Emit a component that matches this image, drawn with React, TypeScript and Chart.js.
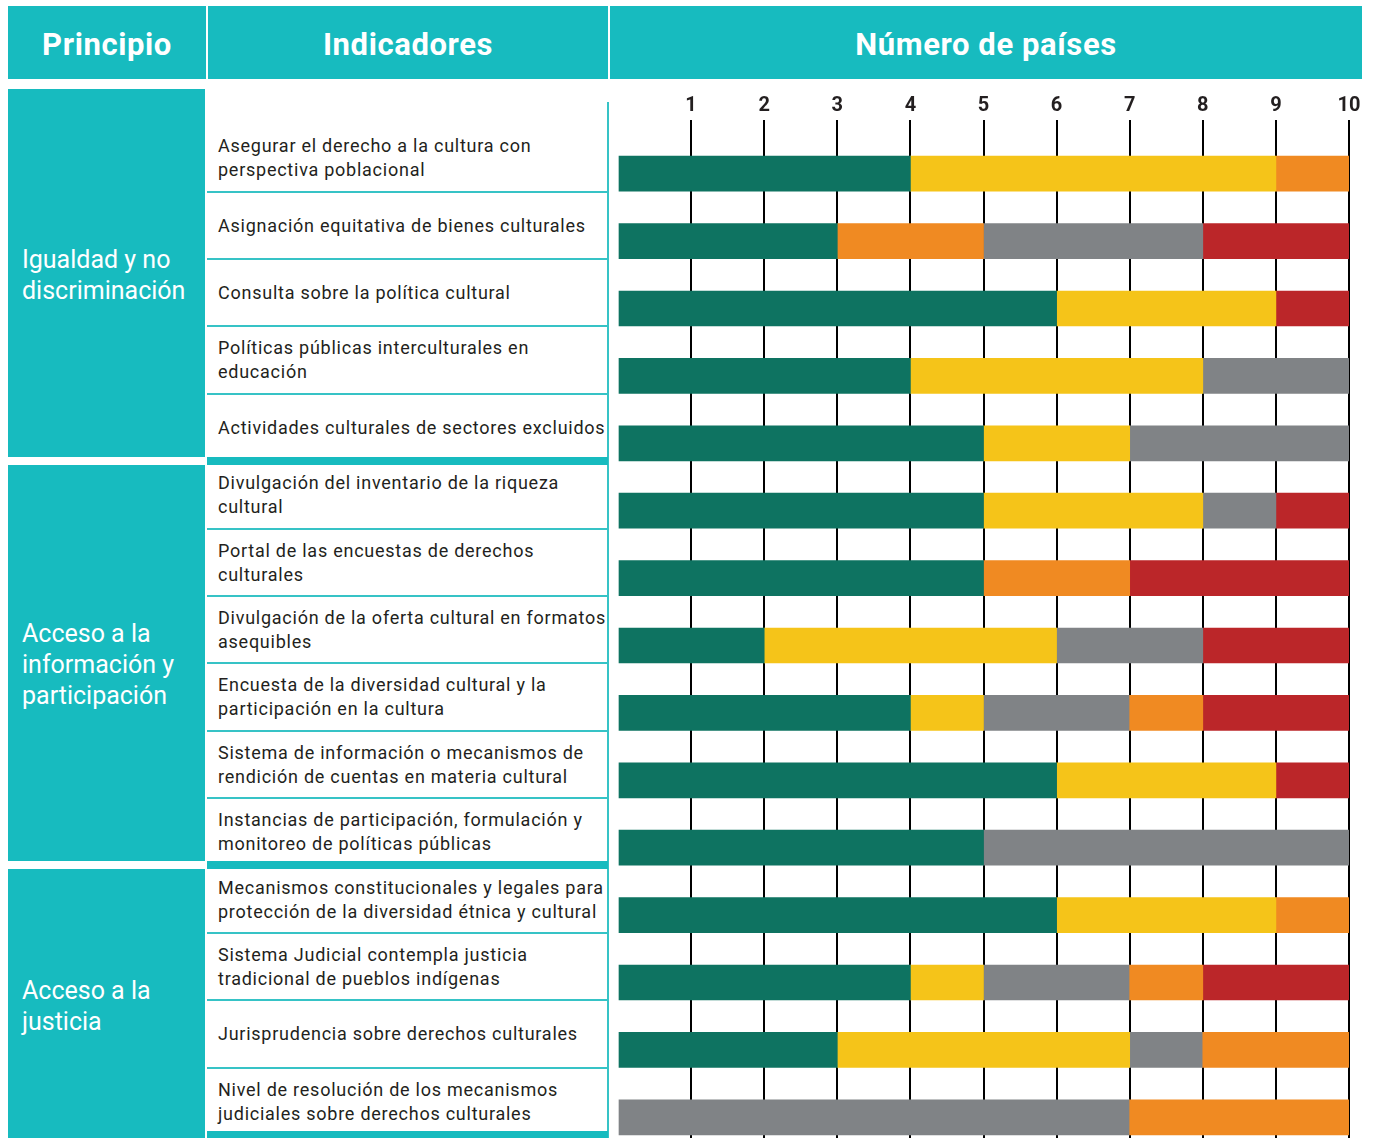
import React, { useEffect, useRef } from "react";
import { Chart, registerables } from "chart.js";

Chart.register(...registerables);

// ---------- data ----------
const headerLabels = ["Principio", "Indicadores", "Número de países"];

const principles = [
  "Igualdad y no\ndiscriminación",
  "Acceso a la\ninformación y\nparticipación",
  "Acceso a la\njusticia",
];
const principleRowCounts = [5, 6, 4];

const indicators = [
  "Asegurar el derecho a la cultura con\nperspectiva poblacional",
  "Asignación equitativa de bienes culturales",
  "Consulta sobre la política cultural",
  "Políticas públicas interculturales en\neducación",
  "Actividades culturales de sectores excluidos",
  "Divulgación del inventario de la riqueza\ncultural",
  "Portal de las encuestas de derechos\nculturales",
  "Divulgación de la oferta cultural en formatos\nasequibles",
  "Encuesta de la diversidad cultural y la\nparticipación en la cultura",
  "Sistema de información o mecanismos de\nrendición de cuentas en materia cultural",
  "Instancias de participación, formulación y\nmonitoreo de políticas públicas",
  "Mecanismos constitucionales y legales para\nprotección de la diversidad étnica y cultural",
  "Sistema Judicial contempla justicia\ntradicional de pueblos indígenas",
  "Jurisprudencia sobre derechos culturales",
  "Nivel de resolución de los mecanismos\njudiciales sobre derechos culturales",
];

type Range = [number, number] | null;

// segment ranges (number of countries) per indicator, by colour
const greenRanges: Range[] = [
  [0, 4], [0, 3], [0, 6], [0, 4], [0, 5],
  [0, 5], [0, 5], [0, 2], [0, 4], [0, 6], [0, 5],
  [0, 6], [0, 4], [0, 3], null,
];
const yellowRanges: Range[] = [
  [4, 9], null, [6, 9], [4, 8], [5, 7],
  [5, 8], null, [2, 6], [4, 5], [6, 9], null,
  [6, 9], [4, 5], [3, 7], null,
];
const orangeRanges: Range[] = [
  [9, 10], [3, 5], null, null, null,
  null, [5, 7], null, [7, 8], null, null,
  [9, 10], [7, 8], [8, 10], [7, 10],
];
const grayRanges: Range[] = [
  null, [5, 8], null, [8, 10], [7, 10],
  [8, 9], null, [6, 8], [5, 7], null, [5, 10],
  null, [5, 7], [7, 8], [0, 7],
];
const redRanges: Range[] = [
  null, [8, 10], [9, 10], null, null,
  [9, 10], [7, 10], [8, 10], [8, 10], [9, 10], null,
  null, [8, 10], null, null,
];

const axisMin = 0;
const axisMax = 10;

// ---------- styles ----------
const TEAL = "#17bbbf";
const LINE_TEAL = "#36c3c6";
const TEXT = "#231f20";
const GREEN = "#0e7361";
const YELLOW = "#f5c419";
const ORANGE = "#f08a22";
const GRAY = "#808386";
const RED = "#bb2629";

const FIRST_ROW_BOTTOM = 191.5;
const ROW_PITCH = 67.4;
const rowBottom = (i: number) => FIRST_ROW_BOTTOM + ROW_PITCH * i;
const rowTop = (i: number) => rowBottom(i) - ROW_PITCH;

const CANVAS_LEFT = 600;
const CANVAS_TOP = 80;
const CANVAS_W = 777;
const CANVAS_H = 1071;

export default function App() {
  const canvasRef = useRef<HTMLCanvasElement | null>(null);

  useEffect(() => {
    if (!canvasRef.current) return;
    const series = [
      { name: "Verde", ranges: greenRanges, color: GREEN },
      { name: "Amarillo", ranges: yellowRanges, color: YELLOW },
      { name: "Naranja", ranges: orangeRanges, color: ORANGE },
      { name: "Gris", ranges: grayRanges, color: GRAY },
      { name: "Rojo", ranges: redRanges, color: RED },
    ];
    const chart = new Chart(canvasRef.current, {
      type: "bar",
      data: {
        labels: indicators.map((s) => s.replace("\n", " ")),
        datasets: series.map((s) => ({
          label: s.name,
          data: s.ranges as any,
          backgroundColor: s.color,
          borderWidth: 0,
          barThickness: 35,
          grouped: false,
        })),
      },
      options: {
        indexAxis: "y",
        animation: false,
        responsive: false,
        layout: { padding: { left: 18, right: 28, top: 0, bottom: 0 } },
        plugins: {
          legend: { display: false },
          tooltip: { enabled: false },
        },
        scales: {
          x: {
            type: "linear",
            position: "top",
            min: axisMin,
            max: axisMax,
            afterFit: (scale: any) => {
              scale.height = 60;
            },
            border: { display: false },
            grid: {
              color: (ctx: any) =>
                ctx.tick && ctx.tick.value === axisMin ? "rgba(0,0,0,0)" : "#000000",
              lineWidth: 2,
              tickLength: 20,
              drawTicks: true,
            },
            ticks: {
              stepSize: 1,
              padding: 2,
              color: TEXT,
              font: { family: "Roboto", weight: "bold", size: 20 },
              callback: (v: any) => (Number(v) === axisMin ? "" : String(v)),
            },
          },
          y: {
            type: "category",
            display: false,
            offset: true,
          },
        },
      },
    });
    return () => chart.destroy();
  }, []);

  // group boundaries
  const groupEnds: number[] = [];
  let acc = 0;
  principleRowCounts.forEach((c) => {
    acc += c;
    groupEnds.push(acc - 1);
  });

  const principleBlocks = principles.map((p, k) => {
    const startRow = k === 0 ? -1 : groupEnds[k - 1];
    const top = k === 0 ? 89 : rowBottom(startRow) + 3.5;
    const bottom = k === principles.length - 1 ? 1138 : rowBottom(groupEnds[k]) - 4.5;
    return { text: p, top, height: bottom - top };
  });

  return (
    <div
      style={{
        position: "fixed",
        left: 0,
        top: 0,
        width: 1377,
        height: 1138,
        overflow: "hidden",
        background: "#ffffff",
        fontFamily: "Roboto, sans-serif",
      }}
    >
      {/* header */}
      {[
        { left: 8, width: 198 },
        { left: 208, width: 400 },
        { left: 610, width: 752 },
      ].map((c, i) => (
        <div
          key={"h" + i}
          style={{
            position: "absolute",
            left: c.left,
            top: 6,
            width: c.width,
            height: 73,
            background: TEAL,
            color: "#ffffff",
            fontWeight: 700,
            fontSize: 31,
            letterSpacing: "0.6px",
            display: "flex",
            alignItems: "center",
            justifyContent: "center",
            paddingTop: 3,
            boxSizing: "border-box",
          }}
        >
          {headerLabels[i]}
        </div>
      ))}

      {/* principle blocks */}
      {principleBlocks.map((b, k) => (
        <div
          key={"p" + k}
          style={{
            position: "absolute",
            left: 8,
            top: b.top,
            width: 197,
            height: b.height,
            background: TEAL,
            color: "#ffffff",
            fontSize: 25,
            lineHeight: "31px",
            whiteSpace: "pre",
            display: "flex",
            alignItems: "center",
            paddingLeft: 14,
            paddingTop: 4,
            boxSizing: "border-box",
          }}
        >
          {b.text}
        </div>
      ))}

      {/* indicator column right border */}
      <div
        style={{
          position: "absolute",
          left: 607,
          top: 102,
          width: 2,
          height: 1036,
          background: LINE_TEAL,
        }}
      />

      {/* indicator rows */}
      {indicators.map((t, i) => (
        <div
          key={"i" + i}
          style={{
            position: "absolute",
            left: 207,
            top: rowTop(i),
            width: 400,
            height: ROW_PITCH,
            display: "flex",
            alignItems: "center",
            paddingLeft: 11,
            paddingTop: 1,
            boxSizing: "border-box",
            color: TEXT,
            fontSize: 18,
            lineHeight: "24px",
            letterSpacing: "0.75px",
            whiteSpace: "pre",
          }}
        >
          {t}
        </div>
      ))}

      {/* row separators */}
      {indicators.map((_, i) => {
        const isEnd = groupEnds.indexOf(i) >= 0;
        return (
          <div
            key={"s" + i}
            style={{
              position: "absolute",
              left: 207,
              top: isEnd ? rowBottom(i) - 4.5 : rowBottom(i) - 1,
              width: 401,
              height: isEnd ? 8 : 2,
              background: isEnd ? TEAL : LINE_TEAL,
            }}
          />
        );
      })}

      {/* chart */}
      <canvas
        ref={canvasRef}
        width={CANVAS_W}
        height={CANVAS_H}
        style={{
          position: "absolute",
          left: CANVAS_LEFT,
          top: CANVAS_TOP,
          width: CANVAS_W,
          height: CANVAS_H,
        }}
      />
    </div>
  );
}
